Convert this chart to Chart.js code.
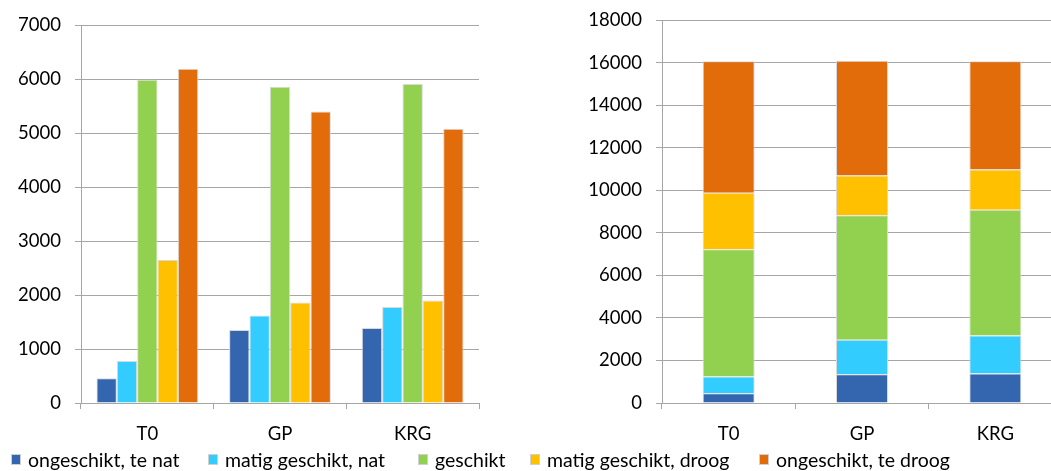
<!DOCTYPE html>
<html>
<head>
<meta charset="utf-8">
<script src="https://cdn.jsdelivr.net/npm/chart.js@4/dist/chart.umd.min.js"></script>
<style>
  html, body { margin: 0; padding: 0; background: #fff; width: 1051px; height: 471px; overflow: hidden; position: relative; }
  .box { position: absolute; }
  #left { left: 0; top: 0; width: 500px; height: 450px; }
  #right { left: 560px; top: -5px; width: 520px; height: 455px; }
  #legend { position: absolute; left: 0; top: 448px; width: 1051px; height: 23px; font-family: Lato, "Open Sans", sans-serif; font-size: 19.5px; color: #000; }
  .item { position: absolute; top: 0; height: 23px; line-height: 23px; white-space: nowrap; }
  .swatch { position: absolute; top: 6px; width: 10px; height: 11px; border: 1px solid #d0d0d0; box-sizing: border-box; }
  .label { position: absolute; top: 0; }
</style>
</head>
<body>
<div class="box" id="left"><canvas id="c1"></canvas></div>
<div class="box" id="right"><canvas id="c2"></canvas></div>
<div id="legend"></div>
<script>
// Scenarios on the category axis
const categories = ['T0', 'GP', 'KRG'];

// Area per suitability class, one value per scenario
const ongeschiktNat   = [460, 1350, 1390];
const matigNat        = [780, 1620, 1780];
const geschikt        = [5990, 5860, 5910];
const matigDroog      = [2650, 1860, 1900];
const ongeschiktDroog = [6190, 5400, 5080];

const seriesNames = ['ongeschikt, te nat', 'matig geschikt, nat', 'geschikt', 'matig geschikt, droog', 'ongeschikt, te droog'];
const seriesValues = [ongeschiktNat, matigNat, geschikt, matigDroog, ongeschiktDroog];
const seriesColors = ['#3465AF', '#33CCFF', '#92D050', '#FFC000', '#E36C0A'];

// Axis ranges and tick steps
const leftMax = 7000, leftStep = 1000;
const rightMax = 18000, rightStep = 2000;

const FONT = { family: 'Lato, "Open Sans", sans-serif', size: 18.5 };
const GRID = '#a6a6a6';

function makeDatasets(stacked) {
  return seriesNames.map((name, i) => ({
    label: name,
    data: seriesValues[i],
    backgroundColor: seriesColors[i],
    borderColor: '#d9d9d9',
    borderWidth: 1,
    categoryPercentage: stacked ? 1 : 0.767,
    barPercentage: stacked ? 0.39 : 1
  }));
}

function makeOptions(max, step, stacked, yWidth, padding) {
  return {
    responsive: false,
    animation: false,
    layout: { padding },
    plugins: { legend: { display: false }, tooltip: { enabled: false } },
    scales: {
      x: {
        stacked,
        offset: true,
        grid: { offset: true, drawOnChartArea: false, color: GRID, tickLength: 6, lineWidth: 1 },
        border: { color: GRID, width: 1 },
        ticks: { color: '#000', font: FONT, padding: 14, maxRotation: 0 },
        afterFit(s) { s.height = 44; }
      },
      y: {
        stacked,
        min: 0, max,
        grid: { color: GRID, tickLength: 6, lineWidth: 1 },
        border: { color: GRID, width: 1 },
        ticks: { stepSize: step, color: '#000', font: FONT, padding: 14, callback: v => String(v) },
        afterFit(s) { s.width = yWidth; }
      }
    }
  };
}

function build(id, w, h, stacked, max, step, yWidth, padding) {
  const cv = document.getElementById(id);
  cv.width = w; cv.height = h;
  cv.style.width = w + 'px'; cv.style.height = h + 'px';
  return new Chart(cv, {
    type: 'bar',
    data: { labels: categories, datasets: makeDatasets(stacked) },
    options: makeOptions(max, step, stacked, yWidth, padding)
  });
}

build('c1', 500, 450, false, leftMax, leftStep, 81, { top: 24, right: 21, bottom: 3, left: 0 });
build('c2', 520, 455, true, rightMax, rightStep, 102, { top: 24, right: 18, bottom: 3, left: 0 });

// Shared legend along the bottom edge
const legendLeft = [11, 208, 418, 530, 759];
const legend = document.getElementById('legend');
seriesNames.forEach((name, i) => {
  const it = document.createElement('div');
  it.className = 'item';
  it.style.left = legendLeft[i] + 'px';
  const sw = document.createElement('div');
  sw.className = 'swatch';
  sw.style.left = '0px';
  sw.style.background = seriesColors[i];
  const lb = document.createElement('div');
  lb.className = 'label';
  lb.style.left = '17px';
  lb.textContent = name;
  it.appendChild(sw); it.appendChild(lb);
  legend.appendChild(it);
});
</script>
</body>
</html>
